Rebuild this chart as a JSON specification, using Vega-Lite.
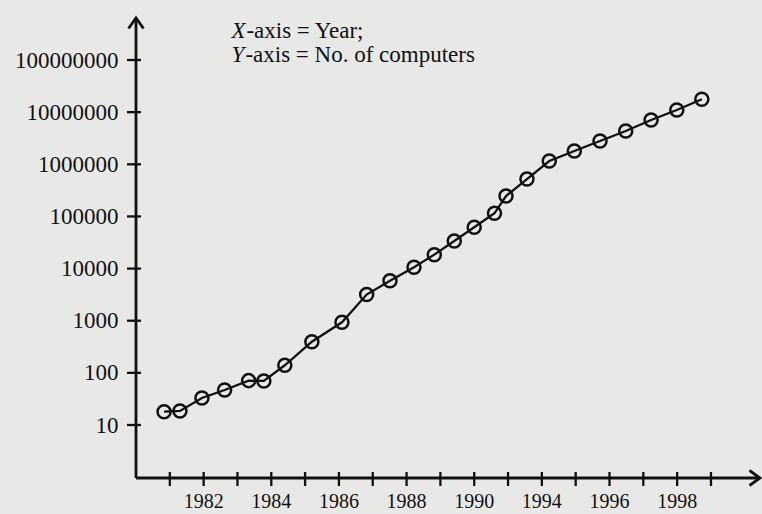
{
  "$schema": "https://vega.github.io/schema/vega-lite/v6.json",
  "width": 624,
  "height": 460,
  "autosize": {"type": "none"},
  "padding": {"left": 136, "top": 18, "right": 2, "bottom": 36},
  "background": "#e8e8e6",
  "config": {
    "view": {"stroke": null},
    "font": "Liberation Serif"
  },
  "datasets": {
    "series": [
      {"year": 1980.83, "computers": 18},
      {"year": 1981.3, "computers": 18.6},
      {"year": 1981.95, "computers": 33},
      {"year": 1982.62, "computers": 47},
      {"year": 1983.33, "computers": 71},
      {"year": 1983.78, "computers": 70},
      {"year": 1984.4, "computers": 140},
      {"year": 1985.2, "computers": 396},
      {"year": 1986.09, "computers": 933},
      {"year": 1986.82, "computers": 3180},
      {"year": 1987.51, "computers": 5860},
      {"year": 1988.22, "computers": 10600},
      {"year": 1988.82, "computers": 18500},
      {"year": 1989.41, "computers": 33800},
      {"year": 1990.0, "computers": 61900},
      {"year": 1990.6, "computers": 115000},
      {"year": 1990.94, "computers": 246000},
      {"year": 1991.56, "computers": 522000},
      {"year": 1992.22, "computers": 1157000},
      {"year": 1992.96, "computers": 1800000},
      {"year": 1993.72, "computers": 2800000},
      {"year": 1994.48, "computers": 4350000},
      {"year": 1995.23, "computers": 7080000},
      {"year": 1995.99, "computers": 11000000},
      {"year": 1996.73, "computers": 17650000}
    ],
    "xticks": [
      {"pos": 1981}, {"pos": 1982}, {"pos": 1983}, {"pos": 1984}, {"pos": 1985},
      {"pos": 1986}, {"pos": 1987}, {"pos": 1988}, {"pos": 1989}, {"pos": 1990},
      {"pos": 1991}, {"pos": 1992}, {"pos": 1993}, {"pos": 1994}, {"pos": 1995},
      {"pos": 1996}, {"pos": 1997}
    ],
    "yticks": [
      {"val": 10}, {"val": 100}, {"val": 1000}, {"val": 10000},
      {"val": 100000}, {"val": 1000000}, {"val": 10000000}, {"val": 100000000}
    ],
    "xlabels": [
      {"pos": 1982, "label": "1982"},
      {"pos": 1984, "label": "1984"},
      {"pos": 1986, "label": "1986"},
      {"pos": 1988, "label": "1988"},
      {"pos": 1990, "label": "1990"},
      {"pos": 1992, "label": "1994"},
      {"pos": 1994, "label": "1996"},
      {"pos": 1996, "label": "1998"}
    ]
  },
  "data": {"name": "series"},
  "layer": [
    {
      "mark": {"type": "line", "color": "#111111", "strokeWidth": 2.3},
      "encoding": {
        "x": {
          "field": "year",
          "type": "quantitative",
          "scale": {"domain": [1980, 1998.45], "nice": false, "zero": false},
          "axis": null
        },
        "y": {
          "field": "computers",
          "type": "quantitative",
          "scale": {"type": "log", "domain": [0.963, 640000000], "nice": false},
          "axis": {
            "values": [10, 100, 1000, 10000, 100000, 1000000, 10000000, 100000000],
            "format": "d",
            "domain": false,
            "grid": false,
            "title": null,
            "ticks": false,
            "offset": 0,
            "labelFont": "Liberation Serif",
            "labelFontSize": 23,
            "labelColor": "#111111",
            "labelPadding": 18,
            "labelOverlap": false
          }
        }
      }
    },
    {
      "data": {"values": [{}]},
      "mark": {"type": "rule", "strokeWidth": 2.8, "color": "#111111"},
      "encoding": {"x": {"datum": 1980, "type": "quantitative"}}
    },
    {
      "data": {"values": [{}]},
      "mark": {"type": "rule", "strokeWidth": 2.8, "color": "#111111"},
      "encoding": {"y": {"datum": 0.963, "type": "quantitative"}}
    },
    {
      "data": {"name": "xticks"},
      "mark": {"type": "tick", "orient": "vertical", "size": 14, "thickness": 2.3, "color": "#111111", "yOffset": 1, "opacity": 1},
      "encoding": {
        "x": {"field": "pos", "type": "quantitative"},
        "y": {"datum": 0.963, "type": "quantitative"}
      }
    },
    {
      "data": {"name": "yticks"},
      "mark": {"type": "tick", "orient": "horizontal", "size": 14, "thickness": 2.3, "color": "#111111", "xOffset": -2, "opacity": 1},
      "encoding": {
        "x": {"datum": 1980, "type": "quantitative"},
        "y": {"field": "val", "type": "quantitative"}
      }
    },
    {
      "mark": {"type": "point", "shape": "circle", "filled": false, "size": 170, "stroke": "#111111", "strokeWidth": 2.5, "opacity": 1},
      "encoding": {
        "x": {"field": "year", "type": "quantitative"},
        "y": {"field": "computers", "type": "quantitative"}
      }
    },
    {
      "data": {"name": "xlabels"},
      "mark": {"type": "text", "font": "Liberation Serif", "fontSize": 20, "align": "center", "baseline": "top", "dy": 14, "color": "#111111"},
      "encoding": {
        "x": {"field": "pos", "type": "quantitative"},
        "y": {"datum": 0.963, "type": "quantitative"},
        "text": {"field": "label", "type": "nominal"}
      }
    },
    {
      "data": {"values": [{}]},
      "mark": {"type": "point", "shape": "M-1,1.4L0,0L1,1.4", "filled": false, "size": 225, "stroke": "#111111", "strokeWidth": 2.8, "opacity": 1},
      "encoding": {
        "x": {"datum": 1980, "type": "quantitative"},
        "y": {"datum": 640000000, "type": "quantitative"}
      }
    },
    {
      "data": {"values": [{}]},
      "mark": {"type": "point", "shape": "M-1.4,-1L0,0L-1.4,1", "filled": false, "size": 225, "stroke": "#111111", "strokeWidth": 2.8, "opacity": 1},
      "encoding": {
        "x": {"datum": 1998.45, "type": "quantitative"},
        "y": {"datum": 0.963, "type": "quantitative"}
      }
    },
    {
      "data": {"values": [{}]},
      "mark": {"type": "text", "text": "X", "fontStyle": "italic", "font": "Liberation Serif", "fontSize": 23, "align": "left", "baseline": "middle", "color": "#111111"},
      "encoding": {
        "x": {"datum": 1982.82, "type": "quantitative"},
        "y": {"datum": 360000000, "type": "quantitative"}
      }
    },
    {
      "data": {"values": [{}]},
      "mark": {"type": "text", "text": "-axis = Year;", "font": "Liberation Serif", "fontSize": 23, "align": "left", "baseline": "middle", "dx": 15, "color": "#111111"},
      "encoding": {
        "x": {"datum": 1982.82, "type": "quantitative"},
        "y": {"datum": 360000000, "type": "quantitative"}
      }
    },
    {
      "data": {"values": [{}]},
      "mark": {"type": "text", "text": "Y", "fontStyle": "italic", "font": "Liberation Serif", "fontSize": 23, "align": "left", "baseline": "middle", "color": "#111111"},
      "encoding": {
        "x": {"datum": 1982.82, "type": "quantitative"},
        "y": {"datum": 125000000, "type": "quantitative"}
      }
    },
    {
      "data": {"values": [{}]},
      "mark": {"type": "text", "text": "-axis = No. of computers", "font": "Liberation Serif", "fontSize": 23, "align": "left", "baseline": "middle", "dx": 14, "color": "#111111"},
      "encoding": {
        "x": {"datum": 1982.82, "type": "quantitative"},
        "y": {"datum": 125000000, "type": "quantitative"}
      }
    }
  ]
}
